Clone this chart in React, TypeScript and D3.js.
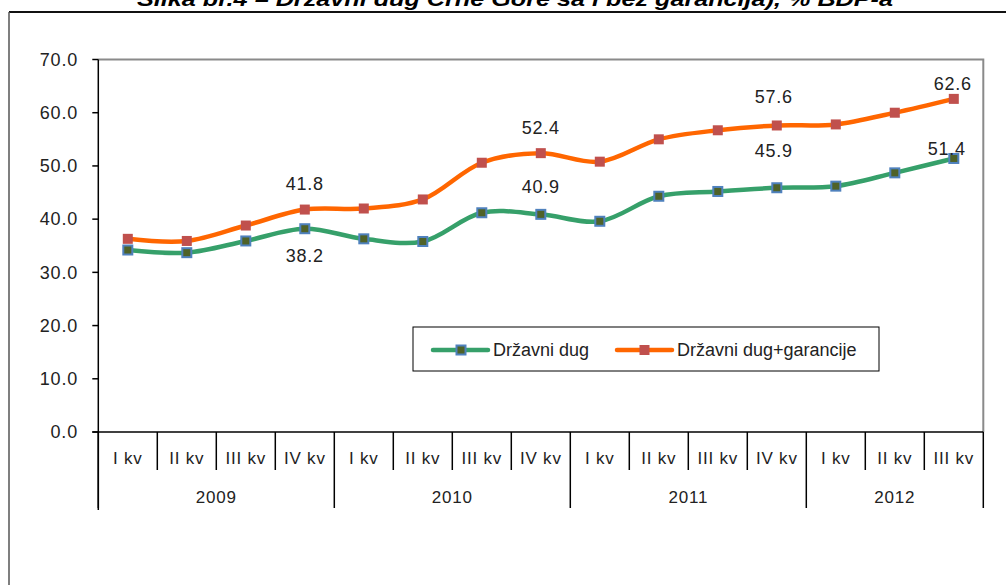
import * as d3 from 'd3'

const quarters = [
  'I kv', 'II kv', 'III kv', 'IV kv',
  'I kv', 'II kv', 'III kv', 'IV kv',
  'I kv', 'II kv', 'III kv', 'IV kv',
  'I kv', 'II kv', 'III kv',
]
const years = ['2009', '2010', '2011', '2012']
const quartersPerYear = [4, 4, 4, 3]

const drzavniDug = [34.2, 33.7, 35.9, 38.2, 36.3, 35.8, 41.2, 40.9, 39.6, 44.3, 45.2, 45.9, 46.2, 48.7, 51.4]
const dugGarancije = [36.3, 35.9, 38.8, 41.8, 42.0, 43.7, 50.6, 52.4, 50.8, 55.0, 56.7, 57.6, 57.8, 60.0, 62.6]

const yTicks = [0, 10, 20, 30, 40, 50, 60, 70]

const title = 'Slika br.4 – Državni dug Crne Gore sa i bez garancija), % BDP-a'
const seriesNames = ['Državni dug', 'Državni dug+garancije']

// which points get a value label, and where it sits relative to the point
const labelSpots = [
  { series: 1, idx: 3, dx: 0, dy: -26 },
  { series: 0, idx: 3, dx: 0, dy: 27 },
  { series: 1, idx: 7, dx: 0, dy: -25 },
  { series: 0, idx: 7, dx: 0, dy: -28 },
  { series: 1, idx: 11, dx: -3, dy: -29 },
  { series: 0, idx: 11, dx: -3, dy: -37 },
  { series: 1, idx: 14, dx: -1, dy: -15 },
  { series: 0, idx: 14, dx: -7, dy: -10 },
]

const GREEN = '#36a06a'
const ORANGE = '#ff6600'
const FONT = '"Liberation Sans", Arial, sans-serif'

export default function App() {
  const left = 98.3
  const right = 983.3
  const top = 59.5
  const bottom = 432

  const x = d3
    .scaleBand<number>()
    .domain(d3.range(quarters.length))
    .range([left, right])
    .padding(0)
  const bw = x.bandwidth()
  const cx = (i: number) => (x(i) ?? 0) + bw / 2

  const y = d3.scaleLinear().domain([0, 70]).range([bottom, top])
  const fmt = d3.format('.1f')

  const line = d3
    .line<number>()
    .x((_, i) => cx(i))
    .y(d => y(d))
    .curve(d3.curveCatmullRom.alpha(0.5))

  const series = [drzavniDug, dugGarancije]

  // year boundaries (band index)
  const bounds = [0]
  quartersPerYear.forEach(n => bounds.push(bounds[bounds.length - 1] + n))

  return (
    <svg
      width={1006}
      height={585}
      style={{ position: 'absolute', left: 0, top: 0, background: '#fff' }}
      fontFamily={FONT}
    >
      {/* title, clipped by top of page */}
      <text
        x={515}
        y={6}
        textAnchor="middle"
        fontSize={20}
        fontWeight="bold"
        fontStyle="italic"
        textLength={756}
        lengthAdjust="spacingAndGlyphs"
        fill="#000"
      >
        {title}
      </text>

      {/* outer frame */}
      <line x1={9} x2={1006} y1={12} y2={12} stroke="#111" strokeWidth={2} />
      <line x1={9} x2={9} y1={12} y2={585} stroke="#555" strokeWidth={1.5} />

      {/* plot border top / right */}
      <path
        d={`M${left},${top} H${right} V${bottom}`}
        fill="none"
        stroke="#8a8a8a"
        strokeWidth={2}
      />

      {/* y axis */}
      <line x1={left} x2={left} y1={top} y2={510} stroke="#000" strokeWidth={1.5} />
      {yTicks.map(t => (
        <g key={t}>
          <line x1={left - 6} x2={left} y1={y(t)} y2={y(t)} stroke="#000" strokeWidth={1.5} />
          <text
            x={78}
            y={y(t)}
            dy="0.35em"
            textAnchor="end"
            fontSize={18}
            letterSpacing={0.8}
            fill="#222"
          >
            {fmt(t)}
          </text>
        </g>
      ))}

      {/* x axis */}
      <line x1={left - 6} x2={right} y1={bottom} y2={bottom} stroke="#000" strokeWidth={1.5} />
      {d3.range(quarters.length + 1).map(i => {
        const bx = i < quarters.length ? x(i) ?? 0 : right
        const long = bounds.includes(i)
        return (
          <line
            key={i}
            x1={bx}
            x2={bx}
            y1={bottom}
            y2={long ? 508 : 470}
            stroke="#000"
            strokeWidth={1.5}
          />
        )
      })}
      {quarters.map((q, i) => (
        <text
          key={i}
          x={cx(i)}
          y={458}
          dy="0.35em"
          textAnchor="middle"
          fontSize={17}
          letterSpacing={0.8}
          fill="#222"
        >
          {q}
        </text>
      ))}
      {years.map((yr, k) => {
        const x0 = x(bounds[k]) ?? 0
        const x1 = bounds[k + 1] < quarters.length ? x(bounds[k + 1]) ?? 0 : right
        return (
          <text
            key={yr}
            x={(x0 + x1) / 2}
            y={497}
            dy="0.35em"
            textAnchor="middle"
            fontSize={17}
            letterSpacing={0.8}
            fill="#222"
          >
            {yr}
          </text>
        )
      })}

      {/* lines */}
      {series.map((s, k) => (
        <path
          key={k}
          d={line(s) ?? ''}
          fill="none"
          stroke={k === 0 ? GREEN : ORANGE}
          strokeWidth={4.5}
          strokeLinecap="round"
          strokeLinejoin="round"
        />
      ))}

      {/* markers */}
      {drzavniDug.map((v, i) => (
        <rect
          key={'g' + i}
          x={cx(i) - 4.5}
          y={y(v) - 4.5}
          width={9}
          height={9}
          fill="#4f6228"
          stroke="#4f81bd"
          strokeWidth={2}
        />
      ))}
      {dugGarancije.map((v, i) => (
        <rect
          key={'o' + i}
          x={cx(i) - 5}
          y={y(v) - 5}
          width={10}
          height={10}
          fill="#c0504d"
        />
      ))}

      {/* value labels */}
      {labelSpots.map((l, k) => {
        const v = series[l.series][l.idx]
        return (
          <text
            key={k}
            x={cx(l.idx) + l.dx}
            y={y(v) + l.dy}
            dy="0.35em"
            textAnchor="middle"
            fontSize={18}
            letterSpacing={0.8}
            fill="#222"
          >
            {fmt(v)}
          </text>
        )
      })}

      {/* legend */}
      <rect x={413} y={327} width={466} height={44} fill="#fff" stroke="#000" strokeWidth={1} />
      {seriesNames.map((name, k) => {
        const lx = k === 0 ? 433 : 617
        const ly = 350
        return (
          <g key={name}>
            <line
              x1={lx}
              x2={lx + 55}
              y1={ly}
              y2={ly}
              stroke={k === 0 ? GREEN : ORANGE}
              strokeWidth={4.5}
              strokeLinecap="round"
            />
            {k === 0 ? (
              <rect x={lx + 23.5} y={ly - 4.5} width={9} height={9} fill="#4f6228" stroke="#4f81bd" strokeWidth={2} />
            ) : (
              <rect x={lx + 22.5} y={ly - 5} width={10} height={10} fill="#c0504d" />
            )}
            <text x={lx + 60} y={ly} dy="0.35em" fontSize={18} fill="#222">
              {name}
            </text>
          </g>
        )
      })}
    </svg>
  )
}
